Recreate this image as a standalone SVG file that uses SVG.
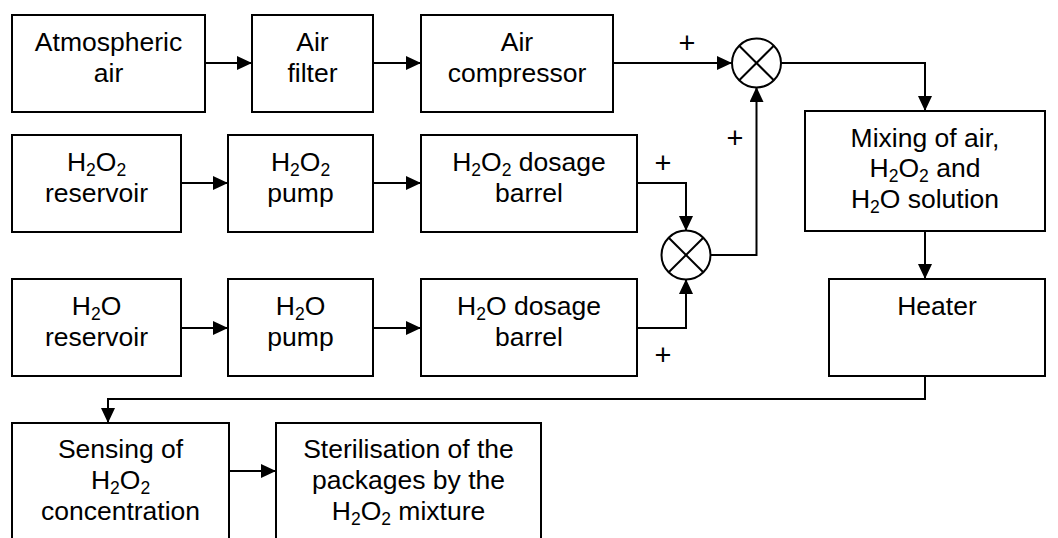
<svg xmlns="http://www.w3.org/2000/svg" width="1058" height="538" viewBox="0 0 1058 538">
<style>
.box{fill:#fff;stroke:#000;stroke-width:2}
.t{font-family:"Liberation Sans",Arial,sans-serif;font-size:26.5px;fill:#000;text-anchor:middle}
.p{font-size:29px}
.s{font-size:17.5px}
.ln{fill:none;stroke:#000;stroke-width:2}
.arr{fill:none;stroke:#000;stroke-width:2;marker-end:url(#ah)}
</style>
<defs>
<marker id="ah" markerUnits="userSpaceOnUse" markerWidth="15" markerHeight="14" refX="15" refY="7" orient="auto">
<path d="M0,0 L15,7 L0,14 z" fill="#000"/>
</marker>
</defs>
<g id="connectors">
<line class="arr" x1="205" y1="63" x2="252" y2="63"/>
<line class="arr" x1="373" y1="63" x2="421" y2="63"/>
<line class="arr" x1="613" y1="63" x2="732" y2="63"/>
<line class="arr" x1="181" y1="183" x2="228" y2="183"/>
<line class="arr" x1="373" y1="183" x2="421" y2="183"/>
<polyline class="arr" points="637,183 686,183 686,231"/>
<line class="arr" x1="181" y1="328" x2="228" y2="328"/>
<line class="arr" x1="373" y1="328" x2="421" y2="328"/>
<polyline class="arr" points="637,328 686,328 686,279"/>
<polyline class="arr" points="710,255 756.5,255 756.5,87"/>
<polyline class="arr" points="781,63 925,63 925,111"/>
<line class="arr" x1="925" y1="231" x2="925" y2="279"/>
<polyline class="arr" points="925,376 925,399 108,399 108,423"/>
<line class="arr" x1="229" y1="471" x2="276" y2="471"/>
<text class="t p" x="687" y="53">+</text>
<text class="t p" x="735" y="148">+</text>
<text class="t p" x="663" y="173">+</text>
<text class="t p" x="663" y="365">+</text>
</g>
<g id="sum1">
<circle class="ln" cx="756.5" cy="63" r="24.5"/>
<line class="ln" x1="739.2" y1="45.7" x2="773.8" y2="80.3"/>
<line class="ln" x1="773.8" y1="45.7" x2="739.2" y2="80.3"/>
</g>
<g id="sum2">
<circle class="ln" cx="686" cy="255" r="24.5"/>
<line class="ln" x1="668.7" y1="237.7" x2="703.3" y2="272.3"/>
<line class="ln" x1="703.3" y1="237.7" x2="668.7" y2="272.3"/>
</g>
<g id="atmospheric-air">
<rect class="box" x="12" y="15" width="193" height="97"/>
<text class="t" x="108.5" y="51">Atmospheric</text>
<text class="t" x="108.5" y="82">air</text>
</g>
<g id="air-filter">
<rect class="box" x="252" y="15" width="121" height="97"/>
<text class="t" x="312.5" y="51">Air</text>
<text class="t" x="312.5" y="82">filter</text>
</g>
<g id="air-compressor">
<rect class="box" x="421" y="15" width="192" height="97"/>
<text class="t" x="517" y="51">Air</text>
<text class="t" x="517" y="82">compressor</text>
</g>
<g id="h2o2-reservoir">
<rect class="box" x="12" y="135" width="169" height="97"/>
<text class="t" x="96.5" y="171">H<tspan class="s" dy="5">2</tspan><tspan dy="-5">O</tspan><tspan class="s" dy="5">2</tspan></text>
<text class="t" x="96.5" y="202">reservoir</text>
</g>
<g id="h2o2-pump">
<rect class="box" x="228" y="135" width="145" height="97"/>
<text class="t" x="300.5" y="171">H<tspan class="s" dy="5">2</tspan><tspan dy="-5">O</tspan><tspan class="s" dy="5">2</tspan></text>
<text class="t" x="300.5" y="202">pump</text>
</g>
<g id="h2o2-dosage-barrel">
<rect class="box" x="421" y="135" width="216" height="97"/>
<text class="t" x="529" y="171">H<tspan class="s" dy="5">2</tspan><tspan dy="-5">O</tspan><tspan class="s" dy="5">2</tspan><tspan dy="-5"> dosage</tspan></text>
<text class="t" x="529" y="202">barrel</text>
</g>
<g id="h2o-reservoir">
<rect class="box" x="12" y="279" width="169" height="97"/>
<text class="t" x="96.5" y="315">H<tspan class="s" dy="5">2</tspan><tspan dy="-5">O</tspan></text>
<text class="t" x="96.5" y="346">reservoir</text>
</g>
<g id="h2o-pump">
<rect class="box" x="228" y="279" width="145" height="97"/>
<text class="t" x="300.5" y="315">H<tspan class="s" dy="5">2</tspan><tspan dy="-5">O</tspan></text>
<text class="t" x="300.5" y="346">pump</text>
</g>
<g id="h2o-dosage-barrel">
<rect class="box" x="421" y="279" width="216" height="97"/>
<text class="t" x="529" y="315">H<tspan class="s" dy="5">2</tspan><tspan dy="-5">O dosage</tspan></text>
<text class="t" x="529" y="346">barrel</text>
</g>
<g id="mixing">
<rect class="box" x="805" y="111" width="240" height="120"/>
<text class="t" x="925" y="147">Mixing of air,</text>
<text class="t" x="925" y="177">H<tspan class="s" dy="5">2</tspan><tspan dy="-5">O</tspan><tspan class="s" dy="5">2</tspan><tspan dy="-5"> and</tspan></text>
<text class="t" x="925" y="208">H<tspan class="s" dy="5">2</tspan><tspan dy="-5">O solution</tspan></text>
</g>
<g id="heater">
<rect class="box" x="829" y="279" width="216" height="97"/>
<text class="t" x="937" y="315">Heater</text>
</g>
<g id="sensing">
<rect class="box" x="12" y="423" width="217" height="130"/>
<text class="t" x="120.5" y="458">Sensing of</text>
<text class="t" x="120.5" y="489">H<tspan class="s" dy="5">2</tspan><tspan dy="-5">O</tspan><tspan class="s" dy="5">2</tspan></text>
<text class="t" x="120.5" y="520">concentration</text>
</g>
<g id="sterilisation">
<rect class="box" x="276" y="423" width="265" height="130"/>
<text class="t" x="408.5" y="458">Sterilisation of the</text>
<text class="t" x="408.5" y="489">packages by the</text>
<text class="t" x="408.5" y="520">H<tspan class="s" dy="5">2</tspan><tspan dy="-5">O</tspan><tspan class="s" dy="5">2</tspan><tspan dy="-5"> mixture</tspan></text>
</g>
</svg>
